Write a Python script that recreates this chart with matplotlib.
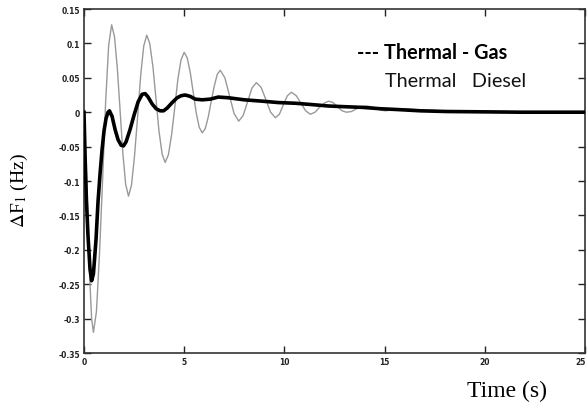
import matplotlib
matplotlib.use("Agg")
import matplotlib.pyplot as plt
import matplotlib.transforms as mtransforms

# ---------------- data ----------------
t_gas = [0.0, 0.05, 0.12, 0.2, 0.3, 0.38, 0.47, 0.6, 0.7, 0.8, 0.9, 1.0, 1.1, 1.2, 1.27,
         1.4, 1.55, 1.7, 1.85, 1.97, 2.1, 2.3, 2.5, 2.7, 2.9, 3.05, 3.2, 3.4, 3.6, 3.8,
         3.97, 4.15, 4.4, 4.65, 4.85, 5.05, 5.3, 5.55, 5.9, 6.3, 6.7, 7.2, 8.0, 8.9,
         9.7, 10.55, 11.4, 12.2, 13.0, 13.9, 14.8, 15.55, 16.8, 18.1, 20.0, 21.8, 25.0]
f_gas = [0.0, -0.06, -0.127, -0.18, -0.228, -0.245, -0.235, -0.185, -0.13, -0.09, -0.055,
         -0.027, -0.009, 0.0, 0.002, -0.006, -0.025, -0.040, -0.048, -0.049, -0.043,
         -0.025, -0.004, 0.015, 0.026, 0.027, 0.022, 0.012, 0.005, 0.002, 0.002, 0.006,
         0.014, 0.021, 0.024, 0.025, 0.023, 0.019, 0.018, 0.019, 0.022, 0.021, 0.018,
         0.016, 0.014, 0.013, 0.011, 0.009, 0.008, 0.007, 0.005, 0.004, 0.002, 0.001,
         0.0005, 0.0, 0.0]

t_diesel = [0.0, 0.1, 0.2, 0.3, 0.38, 0.47,
            0.62, 0.77, 0.93, 1.08, 1.23, 1.38,
            1.52, 1.66, 1.80, 1.94, 2.08, 2.22,
            2.37, 2.52, 2.68, 2.83, 2.98, 3.13,
            3.28, 3.44, 3.59, 3.74, 3.90, 4.05,
            4.21, 4.37, 4.53, 4.68, 4.84, 5.0,
            5.15, 5.30, 5.45, 5.60, 5.75, 5.9,
            6.05, 6.20, 6.35, 6.50, 6.65, 6.8,
            7.03, 7.26, 7.49, 7.72,
            7.94, 8.16, 8.38, 8.6,
            8.84, 9.08, 9.31, 9.55,
            9.75, 9.95, 10.15, 10.35,
            10.59, 10.83, 11.06, 11.3,
            11.53, 11.75, 11.98, 12.2,
            12.43, 12.65, 12.88, 13.1,
            13.35, 13.6, 13.85, 14.1,
            14.34, 14.58, 14.81, 15.05,
            15.5, 16.0, 16.5, 17.0, 18.0, 19.0, 20.0, 21.0, 21.8, 25.0]
f_diesel = [0.0, -0.07, -0.16, -0.25, -0.30, -0.32,
            -0.290, -0.208, -0.097, 0.015, 0.097, 0.127,
            0.110, 0.065, 0.003, -0.060, -0.105, -0.122,
            -0.106, -0.064, -0.005, 0.054, 0.096, 0.112,
            0.100, 0.066, 0.020, -0.027, -0.061, -0.073,
            -0.062, -0.033, 0.007, 0.047, 0.076, 0.087,
            0.079, 0.058, 0.029, -0.001, -0.022, -0.030,
            -0.024, -0.007, 0.016, 0.038, 0.055, 0.061,
            0.050, 0.024, -0.002, -0.013,
            -0.005, 0.015, 0.035, 0.043,
            0.036, 0.018, 0.000, -0.008,
            -0.003, 0.011, 0.024, 0.029,
            0.024, 0.013, 0.002, -0.003,
            0.000, 0.007, 0.013, 0.016,
            0.014, 0.008, 0.002, 0.0,
            0.001, 0.005, 0.008, 0.009,
            0.008, 0.006, 0.003, 0.002,
            0.004, 0.005, 0.004, 0.003, 0.002, 0.002, 0.001, 0.001, 0.0, 0.0]

x_ticks = [0, 5, 10, 15, 20, 25]
x_tick_labels = ["0", "5", "10", "15", "20", "25"]
y_ticks = [0.15, 0.1, 0.05, 0, -0.05, -0.1, -0.15, -0.2, -0.25, -0.3, -0.35]
y_tick_labels = ["0.15", "0.1", "0.05", "0", "-0.05", "-0.1", "-0.15", "-0.2", "-0.25", "-0.3", "-0.35"]

legend_gas = "--- Thermal - Gas"
legend_diesel = "Thermal   Diesel"
x_label = "Time (s)"
y_label = r"$\Delta$F$_1$ (Hz)"

# ---------------- figure ----------------
plt.rcParams['mathtext.fontset'] = 'stix'
fig = plt.figure(figsize=(5.88, 4.06), dpi=100)
ax = fig.add_axes([84 / 588, 1 - 354 / 406, 501 / 588, 344 / 406])

ax.plot(t_diesel, f_diesel, color="#999999", lw=1.0, zorder=2)
ax.plot(t_gas, f_gas, color="#000000", lw=2.6, zorder=3, solid_joinstyle="round")

ax.set_xlim(0, 25)
ax.set_ylim(-0.35, 0.15)
ax.set_xticks(x_ticks)
ax.set_xticklabels(x_tick_labels)
ax.set_yticks(y_ticks)
ax.set_yticklabels(y_tick_labels)
ax.tick_params(direction="in", length=5, width=1, top=True, right=True,
               labelsize=5.5, colors="#222222", pad=3)
for lab in ax.get_xticklabels() + ax.get_yticklabels():
    lab.set_fontweight("bold")
# keep the last x label inside the canvas
last = ax.get_xticklabels()[-1]
last.set_transform(last.get_transform() +
                   mtransforms.ScaledTranslation(-4 / 100, 0, fig.dpi_scale_trans))
for sp in ax.spines.values():
    sp.set_color("#333333")
    sp.set_linewidth(1.2)

fig.text(357 / 588, 1 - 59 / 406, legend_gas, fontsize=14.3, fontweight="bold",
         family="Lato", color="#000000", ha="left", va="baseline")
fig.text(385 / 588, 1 - 87 / 406, legend_diesel, fontsize=14.3,
         family="Lato", color="#111111", ha="left", va="baseline")

fig.text(507 / 588, 1 - 391 / 406, x_label, fontsize=17, family="Liberation Serif",
         ha="center", va="center")
fig.text(19 / 588, 1 - 191 / 406, y_label, fontsize=14, family="Liberation Serif",
         rotation=90, ha="center", va="center")

fig.savefig("out.png", dpi=100)
